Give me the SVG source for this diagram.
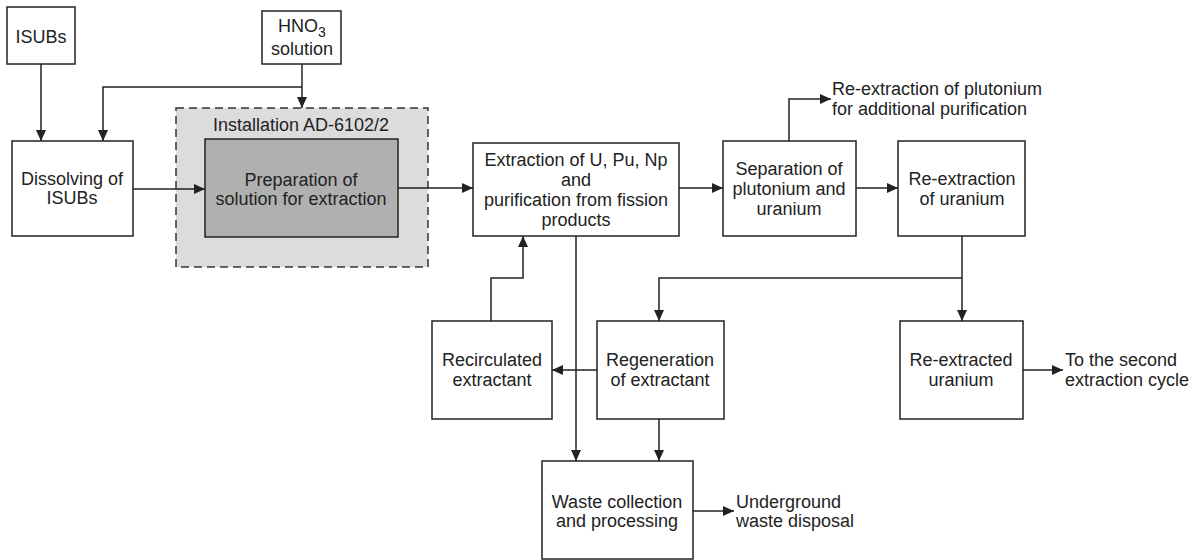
<svg xmlns="http://www.w3.org/2000/svg" width="1198" height="560" viewBox="0 0 1198 560">
<style>
.box{fill:#fff;stroke:#222;stroke-width:1.5}
.t{font-family:"Liberation Sans",Arial,sans-serif;font-size:18px;fill:#222;text-anchor:middle}
.l{font-family:"Liberation Sans",Arial,sans-serif;font-size:18px;fill:#222}
.c{fill:none;stroke:#222;stroke-width:1.5}
</style>
<defs>
<marker id="ah" markerUnits="userSpaceOnUse" markerWidth="11" markerHeight="10" refX="11" refY="5" orient="auto">
<path d="M0,0 L11,5 L0,10 z" fill="#222"/>
</marker>
</defs>
<rect width="1198" height="560" fill="#fff"/>
<g id="installation">
<rect x="176" y="108" width="252" height="159" fill="#dcdcdc" stroke="#333" stroke-width="1.5" stroke-dasharray="8,5"/>
<text class="t" x="301" y="131">Installation AD-6102/2</text>
</g>
<g id="isubs"><rect class="box" x="7" y="7" width="68" height="57"/><text class="t" x="41" y="43">ISUBs</text></g>
<g id="hno3"><rect class="box" x="262" y="11" width="79" height="53"/>
<text class="t" x="302" y="32">HNO<tspan font-size="14" dy="5">3</tspan></text>
<text class="t" x="302" y="55">solution</text></g>
<g id="dissolving"><rect class="box" x="12" y="141" width="121" height="95"/>
<text class="t" x="72" y="185">Dissolving of</text><text class="t" x="72" y="204">ISUBs</text></g>
<g id="preparation"><rect x="205" y="139" width="193" height="98" fill="#b0b0b0" stroke="#222" stroke-width="1.5"/>
<text class="t" x="301" y="186">Preparation of</text><text class="t" x="301" y="205">solution for extraction</text></g>
<g id="extraction"><rect class="box" x="473" y="143" width="206" height="93"/>
<text class="t" x="576" y="166">Extraction of U, Pu, Np</text><text class="t" x="576" y="186">and</text>
<text class="t" x="576" y="206">purification from fission</text><text class="t" x="576" y="226">products</text></g>
<g id="separation"><rect class="box" x="723" y="141" width="133" height="95"/>
<text class="t" x="789" y="175">Separation of</text><text class="t" x="789" y="195">plutonium and</text><text class="t" x="789" y="215">uranium</text></g>
<g id="reextraction"><rect class="box" x="898" y="141" width="127" height="95"/>
<text class="t" x="962" y="185">Re-extraction</text><text class="t" x="962" y="205">of uranium</text></g>
<g id="plutonium-out"><text class="l" x="832" y="95">Re-extraction of plutonium</text><text class="l" x="832" y="115">for additional purification</text></g>
<g id="recirculated"><rect class="box" x="432" y="321" width="120" height="98"/>
<text class="t" x="492" y="366">Recirculated</text><text class="t" x="492" y="386">extractant</text></g>
<g id="regeneration"><rect class="box" x="597" y="321" width="127" height="98"/>
<text class="t" x="660" y="366">Regeneration</text><text class="t" x="660" y="386">of extractant</text></g>
<g id="reextracted"><rect class="box" x="900" y="321" width="123" height="98"/>
<text class="t" x="961" y="366">Re-extracted</text><text class="t" x="961" y="386">uranium</text></g>
<g id="second-cycle"><text class="l" x="1065" y="366">To the second</text><text class="l" x="1065" y="386">extraction cycle</text></g>
<g id="waste"><rect class="box" x="542" y="461" width="151" height="98"/>
<text class="t" x="617" y="508">Waste collection</text><text class="t" x="617" y="527">and processing</text></g>
<g id="underground"><text class="l" x="736" y="508">Underground</text><text class="l" x="736" y="527">waste disposal</text></g>
<g id="connectors">
<path class="c" d="M41,64 V141" marker-end="url(#ah)"/>
<path class="c" d="M302,64 V108" marker-end="url(#ah)"/>
<path class="c" d="M302,87 H103 V141" marker-end="url(#ah)"/>
<path class="c" d="M133,189 H205" marker-end="url(#ah)"/>
<path class="c" d="M398,188 H473" marker-end="url(#ah)"/>
<path class="c" d="M679,188 H723" marker-end="url(#ah)"/>
<path class="c" d="M789,141 V99 H831" marker-end="url(#ah)"/>
<path class="c" d="M856,188 H898" marker-end="url(#ah)"/>
<path class="c" d="M962,236 V321" marker-end="url(#ah)"/>
<path class="c" d="M962,278 H659 V321" marker-end="url(#ah)"/>
<path class="c" d="M597,370 H552" marker-end="url(#ah)"/>
<path class="c" d="M491,321 V278 H523 V236" marker-end="url(#ah)"/>
<path class="c" d="M576,236 V461" marker-end="url(#ah)"/>
<path class="c" d="M659,419 V461" marker-end="url(#ah)"/>
<path class="c" d="M693,511 H734" marker-end="url(#ah)"/>
<path class="c" d="M1023,370 H1063" marker-end="url(#ah)"/>
</g>
</svg>
